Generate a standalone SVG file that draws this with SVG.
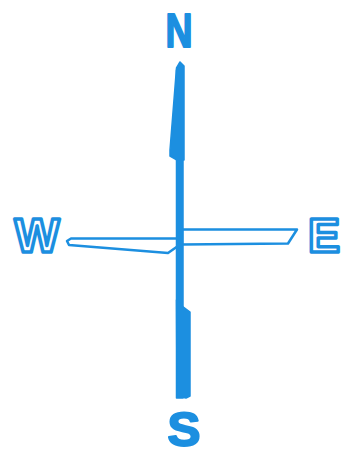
<svg xmlns="http://www.w3.org/2000/svg" width="342" height="456" viewBox="0 0 342 456">
<style>
.ink{fill:#1c8fe0;stroke:#1c8fe0;stroke-width:1.5;stroke-linejoin:round}
.blade{fill:#fff;stroke:#1c8fe0;stroke-width:2.5;stroke-linejoin:round}
.solid{font-family:"Liberation Sans",Arial,sans-serif;font-weight:bold;font-size:48px;fill:#1c8fe0;stroke:#1c8fe0;stroke-width:2;stroke-linejoin:round;text-anchor:middle}
.hollow{font-family:"Liberation Sans",Arial,sans-serif;font-weight:bold;font-size:48px;fill:#fff;stroke:#1c8fe0;stroke-width:3.5;stroke-linejoin:round;text-anchor:middle}
</style>
<rect width="342" height="456" fill="#fff"/>
<g id="blades">
<polygon class="blade" points="67,241 71,238.5 178,238.5 178,246 168,253 69,245"/>
<polygon class="blade" points="182,229.5 297,229.5 288,243.5 182,244.5"/>
</g>
<g id="needle">
<rect class="ink" x="176.5" y="70" width="6.5" height="328"/>
<polygon class="ink" points="180,62 184,66 184,160 177,160 170,156 170,150 176.5,68"/>
<polygon class="ink" points="182,306 190,312 190,396 186,398 177,396 176.5,300"/>
</g>
<g id="N"><text class="solid" x="179" y="47" textLength="27" lengthAdjust="spacingAndGlyphs">N</text></g>
<g id="S"><text class="solid" x="184" y="446" font-size="46" stroke-width="2.5" textLength="33" lengthAdjust="spacingAndGlyphs">S</text></g>
<g id="W"><text class="hollow" x="37" y="252" textLength="45" lengthAdjust="spacingAndGlyphs">W</text></g>
<g id="E"><text class="hollow" x="324" y="252">E</text></g>
</svg>
